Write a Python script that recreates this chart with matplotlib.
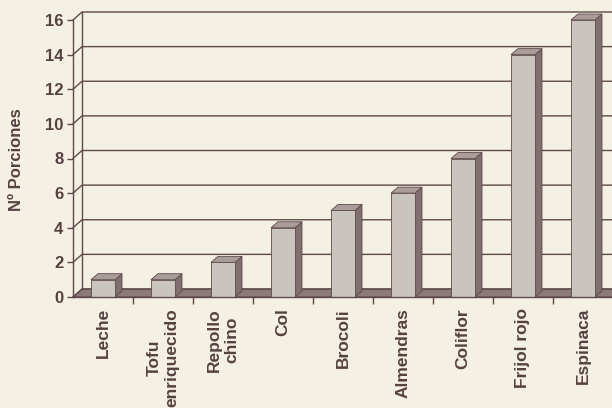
import numpy as np
import matplotlib
matplotlib.use('Agg')
import matplotlib.pyplot as plt
from matplotlib.patches import Polygon

# datos del grafico
categorias = ['Leche', 'Tofu\nenriquecido', 'Repollo\nchino', 'Col', 'Brocoli',
              'Almendras', 'Coliflor', 'Frijol rojo', 'Espinaca']
porciones = [1, 1, 2, 4, 5, 6, 8, 14, 16]
y_ticks = [0, 2, 4, 6, 8, 10, 12, 14, 16]

# colores (papel escaneado)
fondo = '#f4f0e4'
texto = '#554141'
linea = '#5e4a4a'
cara = '#c9c4bd'
lado = '#7f6f6f'
tapa = '#a89d9a'
piso = '#8c7a7a'

plt.rcParams['font.family'] = ['Liberation Sans', 'DejaVu Sans']

fig = plt.figure(figsize=(6.12, 4.08), dpi=100)
fig.patch.set_facecolor(fondo)

W, H = 612, 408
x0_px, y0_px, ytop_px = 73, 297, 20
ax = fig.add_axes([x0_px / W, (H - y0_px) / H, (W - x0_px) / W, (y0_px - ytop_px) / H])
ax.set_facecolor('none')

px_x = 60.0                       # pixeles por categoria
px_y = (y0_px - ytop_px) / 16.0   # pixeles por porcion
xmin, xmax = -0.5, -0.5 + (W - x0_px) / px_x
ax.set_xlim(xmin, xmax)
ax.set_ylim(0, 16)

# profundidad de la pared y de las barras
dx, dy = 9 / px_x, 8 / px_y
bdx, bdy = 7 / px_x, 6 / px_y
ancho = 24 / px_x

# piso
ax.add_patch(Polygon([(xmin, 0), (xmax + 1, 0), (xmax + 1 + dx, dy), (xmin + dx, dy)],
                     closed=True, facecolor=piso, edgecolor=linea, lw=0.8,
                     zorder=1, clip_on=False))

# lineas de la pared (fondo y lateral)
for v in y_ticks:
    ax.plot([xmin, xmin + dx, xmax + 1], [v, v + dy, v + dy], color=linea, lw=1.0,
            zorder=1.2, clip_on=False)
ax.plot([xmin + dx, xmin + dx], [dy, 16 + dy], color=linea, lw=1.0, zorder=1.2, clip_on=False)

# barras 3D
xs = np.arange(len(categorias))
for x, v in zip(xs, porciones):
    l, r = x - ancho / 2, x + ancho / 2
    ax.add_patch(Polygon([(r, 0), (r + bdx, bdy), (r + bdx, v + bdy), (r, v)],
                         closed=True, facecolor=lado, edgecolor=linea, lw=0.6,
                         zorder=3, clip_on=False))
    ax.add_patch(Polygon([(l, v), (r, v), (r + bdx, v + bdy), (l + bdx, v + bdy)],
                         closed=True, facecolor=tapa, edgecolor=linea, lw=0.6,
                         zorder=3, clip_on=False))
ax.bar(xs, porciones, width=ancho, color=cara, edgecolor=linea, lw=0.6, zorder=4)

# ejes
for s in ['top', 'right']:
    ax.spines[s].set_visible(False)
for s in ['left', 'bottom']:
    ax.spines[s].set_color(linea)
    ax.spines[s].set_linewidth(1.0)
    ax.spines[s].set_zorder(5)

ax.set_yticks(y_ticks)
ax.tick_params(axis='y', direction='out', length=4, width=1, color=linea,
               labelsize=12, labelcolor=texto, pad=3)
for t in ax.get_yticklabels():
    t.set_fontweight('bold')

ax.set_xticks(xs)
ax.set_xticklabels(categorias, rotation=90, ha='center', va='top',
                   fontsize=12.5, fontweight='bold', color=texto)
ax.tick_params(axis='x', which='major', length=0, pad=8)
ax.set_xticks(xs[:-1] + 0.5, minor=True)
ax.tick_params(axis='x', which='minor', direction='out', length=5, width=1, color=linea)

fig.text(17 / W, 1 - 160 / H, 'Nº Porciones', rotation=90, ha='center', va='center',
         fontsize=12, fontweight='bold', color=texto)

fig.savefig('out.png', dpi=100, facecolor=fondo)
